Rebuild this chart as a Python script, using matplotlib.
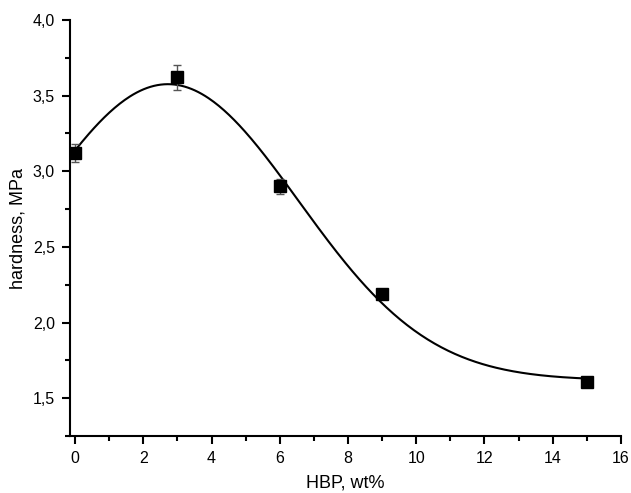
import numpy as np
import matplotlib
matplotlib.use("Agg")
import matplotlib.pyplot as plt
from matplotlib.ticker import MultipleLocator

# measured points
hbp = [0, 3, 6, 9, 15]
hardness = [3.12, 3.62, 2.90, 2.19, 1.61]
hardness_err = [0.06, 0.08, 0.05, 0.0, 0.0]


def gauss_fit(x, y):
    """Least squares Gauss fit y0 + A*exp(-(x-xc)^2/(2w^2)), grid over xc, w."""
    x = np.asarray(x, float)
    y = np.asarray(y, float)
    best = None
    for xc in np.linspace(1.0, 5.0, 201):
        for w in np.linspace(1.5, 7.0, 221):
            g = np.exp(-(x - xc) ** 2 / (2 * w ** 2))
            M = np.column_stack([np.ones_like(x), g])
            coef, *_ = np.linalg.lstsq(M, y, rcond=None)
            r = np.sum((M @ coef - y) ** 2)
            if best is None or r < best[0]:
                best = (r, coef[0], coef[1], xc, w)
    return best[1:]


# fitted curve through the points
y0, amp, xc, w = gauss_fit(hbp, hardness)
xs = np.linspace(0, 15, 300)
ys = y0 + amp * np.exp(-(xs - xc) ** 2 / (2 * w ** 2))

plt.rcParams['font.family'] = ['Liberation Sans', 'DejaVu Sans']

fig = plt.figure(figsize=(6.31, 4.93), dpi=100)
ax = fig.add_axes([0.111, 0.1156, 0.873, 0.8438])

ax.plot(xs, ys, color='black', linewidth=1.5)
ax.errorbar(hbp, hardness, yerr=hardness_err, fmt='none', ecolor='#555555',
            elinewidth=1, capsize=3, capthick=1)
ax.plot(hbp, hardness, 's', color='black', markersize=8.5)

ax.set_xlim(-0.15, 16)
ax.set_ylim(1.25, 4.0)
ax.spines['top'].set_visible(False)
ax.spines['right'].set_visible(False)
for s in ['left', 'bottom']:
    ax.spines[s].set_linewidth(1.5)

ax.xaxis.set_major_locator(MultipleLocator(2))
ax.xaxis.set_minor_locator(MultipleLocator(1))
ax.yaxis.set_major_locator(MultipleLocator(0.5))
ax.yaxis.set_minor_locator(MultipleLocator(0.25))
ax.yaxis.set_major_formatter(lambda v, p: f"{v:.1f}".replace('.', ','))
ax.tick_params(which='major', length=6, width=1.5, labelsize=11.5, pad=5)
ax.tick_params(which='minor', length=3.5, width=1.5)

ax.set_xlabel('HBP, wt%', fontsize=13, labelpad=6)
ax.set_ylabel('hardness, MPa', fontsize=13, labelpad=4)

fig.savefig('out.png', dpi=100)
